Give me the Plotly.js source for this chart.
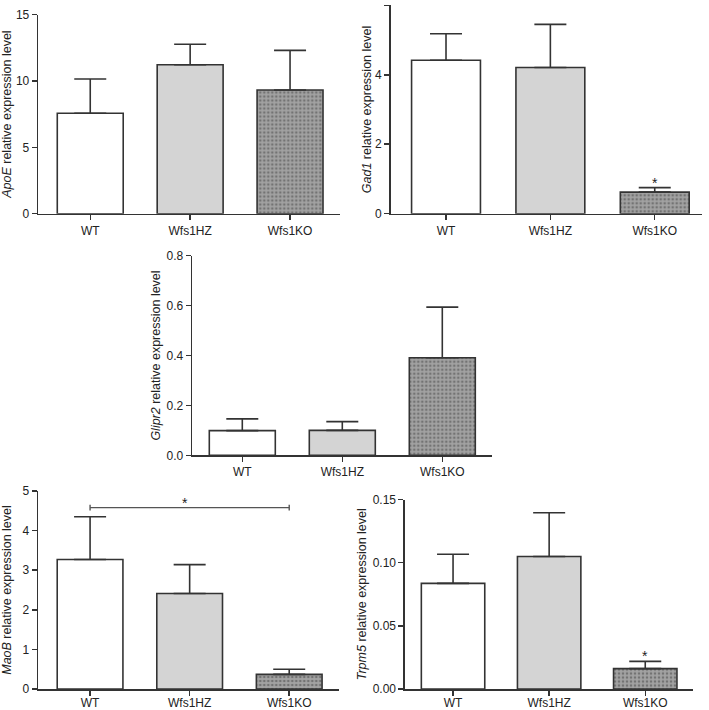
<!DOCTYPE html>
<html>
<head>
<meta charset="utf-8">
<script src="https://cdn.plot.ly/plotly-3.0.1.min.js"></script>
<style>html,body{margin:0;padding:0;background:#fff;}#chart{width:709px;height:710px;}</style>
</head>
<body>
<div id="chart"></div>
<script>
// ---- data ----
var groups = ['WT', 'Wfs1HZ', 'Wfs1KO'];

var apoeMean = [7.56, 11.22, 9.31];
var apoeErr  = [2.58, 1.54, 2.99];

var gad1Mean = [4.42, 4.21, 0.62];
var gad1Err  = [0.76, 1.24, 0.13];

var glipr2Mean = [0.099, 0.100, 0.391];
var glipr2Err  = [0.047, 0.035, 0.203];

var maobMean = [3.27, 2.41, 0.37];
var maobErr  = [1.08, 0.73, 0.13];

var trpm5Mean = [0.0836, 0.1049, 0.0161];
var trpm5Err  = [0.0231, 0.0346, 0.0058];

var geneNames = ['ApoE', 'Gad1', 'Glipr2', 'MaoB', 'Trpm5'];

// significance marks: single-group stars and one bracket
var starGroups = {Gad1: ['Wfs1KO'], Trpm5: ['Wfs1KO']};
var maobBracket = {from: 'WT', to: 'Wfs1KO', level: 4.58};

// ---- styling ----
var FONT = 'Liberation Sans, Arial, Helvetica, sans-serif';
var INK = '#333333';
var fills = ['#ffffff', '#d4d4d4', '#a2a2a2'];
var patternShapes = ['', '', '.'];

var panels = [
  {mean: apoeMean, err: apoeErr, x: [38.3, 340], y: [14.5, 213.7], range: [0, 15], dtick: 5, fmt: '', standoff: 3, xr: [-0.52, 2.5], lblShift: 0},
  {mean: gad1Mean, err: gad1Err, x: [390.7, 701.7], y: [5.3, 213.7], range: [0, 6], dtick: 2, fmt: '', standoff: 0, xr: [-0.53, 2.45], lblShift: 0},
  {mean: glipr2Mean, err: glipr2Err, x: [192.3, 492.3], y: [255.7, 455.3], range: [0, 0.8], dtick: 0.2, fmt: '.1f', standoff: 3, xr: [-0.5, 2.5], lblShift: 0},
  {mean: maobMean, err: maobErr, x: [38.3, 339], y: [491, 689], range: [0, 5], dtick: 1, fmt: '', standoff: 9, xr: [-0.52, 2.5], lblShift: -3},
  {mean: trpm5Mean, err: trpm5Err, x: [405, 693.3], y: [499.5, 689], range: [0, 0.15], dtick: 0.05, fmt: '.2f', standoff: 3, xr: [-0.5, 2.5], lblShift: -3}
];

var W = 709, H = 710;
var traces = [];
var layout = {
  width: W, height: H,
  margin: {l: 0, r: 0, t: 0, b: 0},
  paper_bgcolor: '#ffffff', plot_bgcolor: 'rgba(0,0,0,0)',
  showlegend: false,
  font: {family: FONT, size: 12, color: '#222222'},
  annotations: [], shapes: []
};

panels.forEach(function (p, i) {
  var n = i === 0 ? '' : String(i + 1);
  var errMinus = p.err.map(function () { return 0; });
  traces.push({
    type: 'bar', x: groups, y: p.mean,
    xaxis: 'x' + n, yaxis: 'y' + n,
    width: 0.66,
    marker: {
      color: fills,
      line: {color: INK, width: 1.6},
      pattern: {shape: patternShapes, fillmode: 'overlay', fgcolor: '#6a6a6a', size: 4, solidity: 0.35}
    },
    error_y: {type: 'data', symmetric: false, array: p.err, arrayminus: errMinus,
              color: INK, thickness: 1.6, width: 16},
    hoverinfo: 'skip'
  });
  var axStyle = {showline: true, linecolor: INK, linewidth: 1.6, ticks: 'outside', ticklen: 5,
                 tickwidth: 1.5, tickcolor: INK, showgrid: false, zeroline: false,
                 tickfont: {family: FONT, size: 12, color: '#222222'}};
  layout['xaxis' + n] = Object.assign({}, axStyle, {
    domain: [p.x[0] / W, p.x[1] / W], anchor: 'y' + n,
    type: 'category', range: p.xr, fixedrange: true, ticklabelstandoff: p.lblShift
  });
  layout['yaxis' + n] = Object.assign({}, axStyle, {
    domain: [1 - p.y[1] / H, 1 - p.y[0] / H], anchor: 'x' + n,
    range: p.range, dtick: p.dtick, tick0: 0, tickformat: p.fmt, fixedrange: true,
    title: {text: '<i>' + geneNames[i] + '</i> relative expression level',
            font: {family: FONT, size: 12.5, color: '#222222'}, standoff: p.standoff}
  });

  var stars = starGroups[geneNames[i]] || [];
  stars.forEach(function (g) {
    var k = groups.indexOf(g);
    layout.annotations.push({
      xref: 'x' + n, yref: 'y' + n, x: g, y: p.mean[k] + p.err[k],
      text: '*', showarrow: false, yanchor: 'bottom', yshift: -5,
      font: {family: FONT, size: 14, color: '#222222'}
    });
  });
});

// MaoB bracket (panel 4)
(function () {
  var a = groups.indexOf(maobBracket.from), b = groups.indexOf(maobBracket.to);
  var lv = maobBracket.level, tick = 0.075;
  var ln = {color: '#555555', width: 1.4};
  layout.shapes.push({type: 'line', xref: 'x4', yref: 'y4', x0: a, x1: b, y0: lv, y1: lv, line: ln});
  layout.shapes.push({type: 'line', xref: 'x4', yref: 'y4', x0: a, x1: a, y0: lv - tick, y1: lv + tick, line: ln});
  layout.shapes.push({type: 'line', xref: 'x4', yref: 'y4', x0: b, x1: b, y0: lv - tick, y1: lv + tick, line: ln});
  layout.annotations.push({
    xref: 'x4', yref: 'y4', x: (a + b) / 2, y: lv, text: '*', showarrow: false,
    yanchor: 'bottom', yshift: -5, xshift: -5,
    font: {family: FONT, size: 14, color: '#222222'}
  });
})();

Plotly.newPlot('chart', traces, layout, {displayModeBar: false, staticPlot: true});
</script>
</body>
</html>
